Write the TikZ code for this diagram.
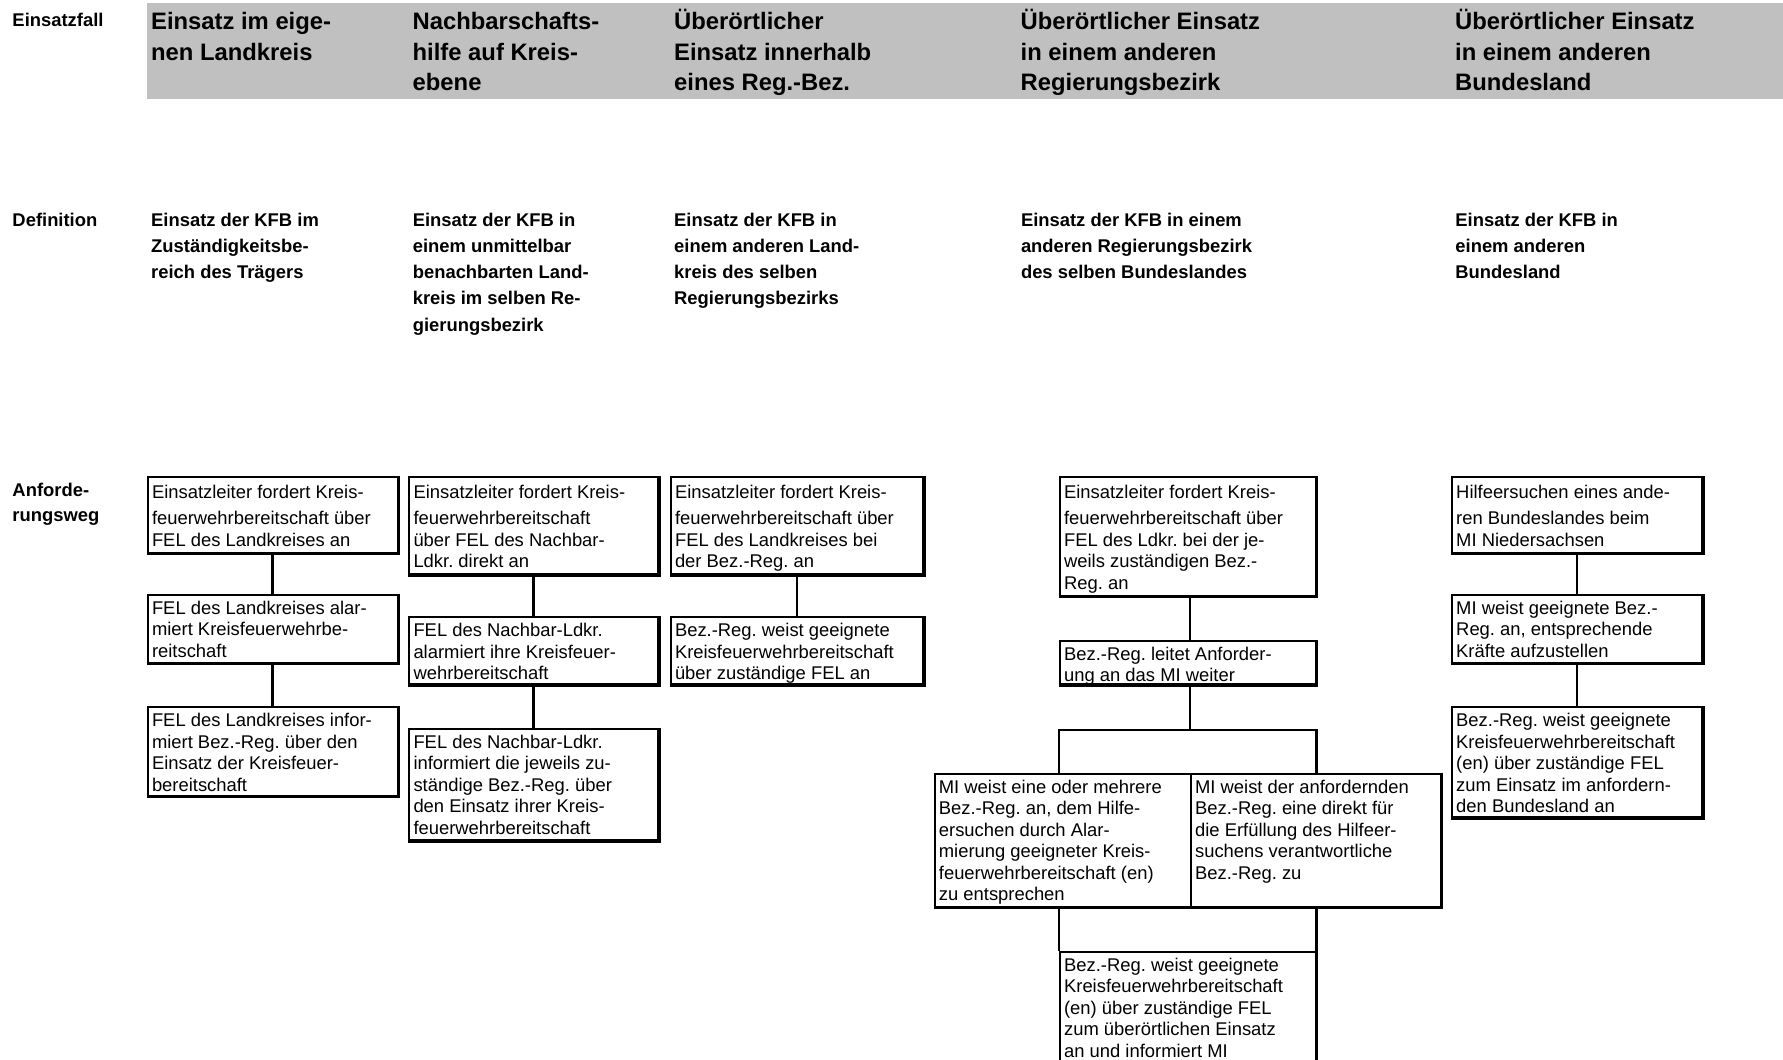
\documentclass[tikz,border=0pt]{standalone}
\usepackage{fontspec}
\setmainfont{Liberation Sans}
\frenchspacing
\definecolor{hdrgray}{RGB}{192,192,192}
\tikzset{
  box/.style={draw, line width=2pt, inner sep=0pt, anchor=north west},
  link/.style={line width=2.6pt},
  hdr/.style={anchor=base west, align=left, inner sep=0pt, font=\fontsize{23.8}{30.7}\selectfont\bfseries},
  deftxt/.style={anchor=base west, align=left, inner sep=0pt, font=\fontsize{18.4}{26.15}\selectfont\bfseries},
}
\newcommand\bx[7]{%
  \pgfmathsetmacro\bw{#4-#2}\pgfmathsetmacro\bh{#5-#3}\pgfmathsetmacro\tw{\bw-9}%
  \node[box] (#1) at (#2,#3) {\hspace*{4.3pt}\parbox[c][\bh pt][t]{\tw pt}{\fontsize{18.4}{21.5}\selectfont\frenchspacing\raggedright\rule{0pt}{#6pt}#7}\hspace*{4.7pt}};%
}
\begin{document}
\begin{tikzpicture}[x=1pt,y=-1pt]
\useasboundingbox (0,0) rectangle (1783,1060);
\fill[hdrgray] (147,3.4) rectangle (1783,99);

% row labels (anchor = baseline of the last line)
\node[deftxt] (lEinsatzfall) at (12.3,26.5) {Einsatzfall};
\node[deftxt] (lDefinition) at (12.3,226.5) {Definition};
\node[deftxt, font=\fontsize{18.4}{25}\selectfont\bfseries] (lAnford) at (12.3,521) {Anforde-\\rungsweg};

% headers
\node[hdr] (h1) at (151,60.2) {Einsatz im eige-\\nen Landkreis};
\node[hdr] (h2) at (412.5,90.9) {Nachbarschafts-\\hilfe auf Kreis-\\ebene};
\node[hdr] (h3) at (674,90.9) {Überörtlicher\\Einsatz innerhalb\\eines Reg.-Bez.};
\node[hdr] (h4) at (1020.5,90.9) {Überörtlicher Einsatz\\in einem anderen\\Regierungsbezirk};
\node[hdr] (h5) at (1455,90.9) {Überörtlicher Einsatz\\in einem anderen\\Bundesland};

% definitions
\node[deftxt] (df1) at (151,278.8) {Einsatz der KFB im\\Zuständigkeitsbe-\\reich des Trägers};
\node[deftxt] (df2) at (412.6,331.1) {Einsatz der KFB in\\einem unmittelbar\\benachbarten Land-\\kreis im selben Re-\\gierungsbezirk};
\node[deftxt] (df3) at (674,304.95) {Einsatz der KFB in\\einem anderen Land-\\kreis des selben\\Regierungsbezirks};
\node[deftxt] (df4) at (1020.8,278.8) {Einsatz der KFB in einem\\anderen Regierungsbezirk\\des selben Bundeslandes};
\node[deftxt] (df5) at (1455.2,278.8) {Einsatz der KFB in\\einem anderen\\Bundesland};

% column 1
\bx{a1}{146.7}{476.4}{396.8}{551.5}{21}{Einsatzleiter fordert Kreis-\\[5pt]feuerwehrbereitschaft über\\FEL des Landkreises an}
\bx{a2}{146.7}{593.6}{396.8}{661.8}{19.5}{FEL des Landkreises alar-\\miert Kreisfeuerwehrbe-\\reitschaft}
\bx{a3}{146.7}{706.1}{396.8}{794.8}{19.5}{FEL des Landkreises infor-\\miert Bez.-Reg. über den\\Einsatz der Kreisfeuer-\\bereitschaft}
% column 2
\bx{b1}{408.2}{476.4}{657.2}{573.1}{21}{Einsatzleiter fordert Kreis-\\[5pt]feuerwehrbereitschaft\\über FEL des Nachbar-\\Ldkr. direkt an}
\bx{b2}{408.2}{616.3}{657.2}{683.4}{19.5}{FEL des Nachbar-Ldkr.\\alarmiert ihre Kreisfeuer-\\wehrbereitschaft}
\bx{b3}{408.2}{727.7}{657.2}{839.2}{19.5}{FEL des Nachbar-Ldkr.\\informiert die jeweils zu-\\ständige Bez.-Reg. über\\den Einsatz ihrer Kreis-\\feuerwehrbereitschaft}
% column 3
\bx{c1}{669.7}{476.4}{922.2}{573.1}{21}{Einsatzleiter fordert Kreis-\\[5pt]feuerwehrbereitschaft über\\FEL des Landkreises bei\\der Bez.-Reg. an}
\bx{c2}{669.7}{616.3}{922.2}{683.4}{19.5}{Bez.-Reg. weist geeignete\\Kreisfeuerwehrbereitschaft\\über zuständige FEL an}
% column 4
\bx{d1}{1058.8}{476.4}{1314.5}{595}{21}{Einsatzleiter fordert Kreis-\\[5pt]feuerwehrbereitschaft über\\FEL des Ldkr. bei der je-\\weils zuständigen Bez.-\\Reg. an}
\bx{d2}{1058.8}{639.5}{1314.5}{683.4}{19.5}{Bez.-Reg. leitet Anforder-\\ung an das MI weiter}
\bx{d3l}{933.6}{772.6}{1189.8}{906}{19.5}{MI weist eine oder mehrere\\Bez.-Reg. an, dem Hilfe-\\ersuchen durch Alar-\\mierung geeigneter Kreis-\\feuerwehrbereitschaft (en)\\zu entsprechen}
\bx{d3r}{1189.8}{772.6}{1439.6}{906}{19.5}{MI weist der anfordernden\\Bez.-Reg. eine direkt für\\die Erfüllung des Hilfeer-\\suchens verantwortliche\\Bez.-Reg. zu}
\bx{d4}{1058.8}{950.6}{1314.5}{1075}{19.5}{Bez.-Reg. weist geeignete\\Kreisfeuerwehrbereitschaft\\(en) über zuständige FEL\\zum überörtlichen Einsatz\\an und informiert MI}
% column 5
\bx{e1}{1450.9}{476.4}{1701.1}{551.5}{21}{Hilfeersuchen eines ande-\\[5pt]ren Bundeslandes beim\\MI Niedersachsen}
\bx{e2}{1450.9}{593.6}{1701.1}{661.8}{19.5}{MI weist geeignete Bez.-\\Reg. an, entsprechende\\Kräfte aufzustellen}
\bx{e3}{1450.9}{706.1}{1701.1}{816.4}{19.5}{Bez.-Reg. weist geeignete\\Kreisfeuerwehrbereitschaft\\(en) über zuständige FEL\\zum Einsatz im anfordern-\\den Bundesland an}

% heavier right and bottom edges
\foreach \n in {a1,a2,a3,b1,b2,b3,c1,c2,d1,d2,d3r,d4,e1,e2,e3}
  \draw[line width=2.8pt] (\n.north east) -- (\n.south east) -- (\n.south west);
\draw[line width=2.8pt] (d3l.south east) -- (d3l.south west);

% connectors
\draw[link] (a1.south) -- (a2.north);
\draw[link] (a2.south) -- (a3.north);
\draw[link] (b1.south) -- (b2.north);
\draw[link] (b2.south) -- (b3.north);
\draw[link] (c1.south) -- (c2.north);
\draw[link] (e1.south) -- (e2.north);
\draw[link] (e2.south) -- (e3.north);
\coordinate (jx) at (1189.8,730);
\draw[link] (d1.south -| jx) -- (d2.north -| jx);
\draw[link] (d2.south -| jx) -- (jx);
\draw[link] (d3l.north -| d2.west) -- (d2.west |- jx) -- (d2.east |- jx) -- (d3r.north -| d2.east);
\draw[link] (d3l.south -| d4.west) -- (d4.north west);
\draw[link] (d3r.south -| d4.east) -- (d4.north east);
\end{tikzpicture}
\end{document}
